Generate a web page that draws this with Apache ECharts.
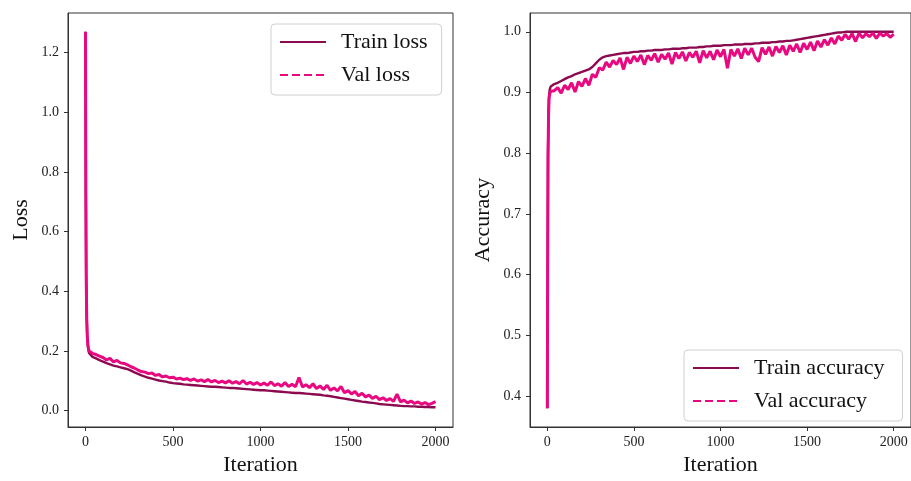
<!DOCTYPE html>
<html>
<head>
<meta charset="utf-8">
<script src="https://cdn.jsdelivr.net/npm/echarts@6/dist/echarts.min.js"></script>
<style>
  html, body { margin: 0; padding: 0; background: #fff; }
  #main { width: 911px; height: 481px; }
</style>
</head>
<body>
<div id="main"></div>
<script>
// iterations (x values shared by all four curves)
var iterations = [0, 2, 4, 7, 10, 14, 20,
  40, 60, 80, 100, 120, 140, 160, 180, 200, 220, 240, 260, 280, 300,
  320, 340, 360, 380, 400, 420, 440, 460, 480, 500,
  520, 540, 560, 580, 600, 620, 640, 660, 680, 700,
  720, 740, 760, 780, 800, 820, 840, 860, 880, 900,
  920, 940, 960, 980, 1000, 1020, 1040, 1060, 1080, 1100,
  1120, 1140, 1160, 1180, 1200, 1220, 1240, 1260, 1280, 1300,
  1320, 1340, 1360, 1380, 1400, 1420, 1440, 1460, 1480, 1500,
  1520, 1540, 1560, 1580, 1600, 1620, 1640, 1660, 1680, 1700,
  1720, 1740, 1760, 1780, 1800, 1820, 1840, 1860, 1880, 1900,
  1920, 1940, 1960, 1980, 2000];

var trainLoss = [1.27, 0.72, 0.45, 0.31, 0.25, 0.212, 0.193,
  0.180, 0.175, 0.169, 0.164, 0.159, 0.155, 0.151, 0.148, 0.145, 0.142, 0.139, 0.134, 0.128, 0.123,
  0.118, 0.114, 0.110, 0.107, 0.104, 0.101, 0.099, 0.097, 0.094, 0.092,
  0.091, 0.090, 0.088, 0.087, 0.086, 0.085, 0.084, 0.083, 0.082, 0.081,
  0.080, 0.080, 0.079, 0.078, 0.077, 0.076, 0.076, 0.075, 0.074, 0.073,
  0.072, 0.071, 0.070, 0.069, 0.068, 0.068, 0.067, 0.066, 0.065, 0.064,
  0.063, 0.062, 0.061, 0.060, 0.059, 0.059, 0.058, 0.057, 0.056, 0.055,
  0.054, 0.053, 0.051, 0.050, 0.048, 0.046, 0.044, 0.042, 0.040, 0.038,
  0.036, 0.034, 0.032, 0.030, 0.029, 0.027, 0.026, 0.024, 0.022, 0.021,
  0.020, 0.019, 0.018, 0.017, 0.016, 0.015, 0.015, 0.014, 0.014, 0.013,
  0.013, 0.012, 0.012, 0.011, 0.011];

var valLoss = [1.27, 0.72, 0.45, 0.31, 0.25, 0.22, 0.20,
  0.192, 0.188, 0.183, 0.178, 0.170, 0.175, 0.163, 0.168, 0.160, 0.158, 0.153, 0.147, 0.142, 0.136,
  0.131, 0.129, 0.124, 0.126, 0.118, 0.121, 0.113, 0.116, 0.110, 0.112,
  0.106, 0.109, 0.104, 0.107, 0.101, 0.106, 0.099, 0.103, 0.097, 0.104,
  0.096, 0.101, 0.094, 0.099, 0.093, 0.100, 0.092, 0.097, 0.090, 0.101,
  0.089, 0.095, 0.088, 0.094, 0.086, 0.092, 0.085, 0.096, 0.084, 0.090,
  0.082, 0.094, 0.081, 0.088, 0.080, 0.111, 0.079, 0.087, 0.077, 0.090,
  0.074, 0.083, 0.071, 0.085, 0.068, 0.076, 0.066, 0.081, 0.060, 0.067,
  0.056, 0.064, 0.050, 0.058, 0.046, 0.052, 0.041, 0.048, 0.037, 0.043,
  0.034, 0.040, 0.031, 0.055, 0.029, 0.035, 0.026, 0.032, 0.024, 0.029,
  0.022, 0.027, 0.020, 0.024, 0.030];

var trainAcc = [0.38, 0.62, 0.80, 0.87, 0.895, 0.905, 0.910,
  0.914, 0.916, 0.919, 0.922, 0.925, 0.927, 0.930, 0.932, 0.934, 0.936, 0.938, 0.942, 0.948, 0.954,
  0.958, 0.960, 0.961, 0.962, 0.963, 0.964, 0.965, 0.965, 0.966, 0.967,
  0.967, 0.968, 0.968, 0.969, 0.969, 0.970, 0.970, 0.970, 0.971, 0.971,
  0.972, 0.972, 0.972, 0.973, 0.973, 0.974, 0.974, 0.974, 0.975, 0.975,
  0.976, 0.976, 0.977, 0.977, 0.977, 0.978, 0.978, 0.978, 0.979, 0.979,
  0.979, 0.980, 0.980, 0.980, 0.981, 0.981, 0.982, 0.982, 0.982, 0.983,
  0.983, 0.984, 0.984, 0.985, 0.985, 0.986, 0.987, 0.988, 0.989, 0.990,
  0.991, 0.992, 0.993, 0.994, 0.995, 0.996, 0.997, 0.998, 0.999, 0.999,
  1.000, 1.000, 1.000, 1.000, 1.000, 1.000, 1.000, 1.000, 1.000, 1.000,
  1.000, 1.000, 1.000, 1.000, 1.000];

var valAcc = [0.38, 0.60, 0.79, 0.86, 0.89, 0.898, 0.902,
  0.903, 0.908, 0.899, 0.912, 0.905, 0.916, 0.901, 0.918, 0.910, 0.923, 0.912, 0.930, 0.925, 0.941,
  0.937, 0.950, 0.942, 0.953, 0.946, 0.957, 0.938, 0.958, 0.948, 0.960,
  0.951, 0.962, 0.946, 0.961, 0.953, 0.964, 0.950, 0.963, 0.955, 0.965,
  0.947, 0.966, 0.956, 0.967, 0.952, 0.966, 0.958, 0.968, 0.949, 0.969,
  0.957, 0.968, 0.954, 0.970, 0.959, 0.971, 0.940, 0.971, 0.960, 0.972,
  0.956, 0.973, 0.962, 0.973, 0.958, 0.951, 0.974, 0.963, 0.975, 0.960,
  0.976, 0.966, 0.977, 0.962, 0.978, 0.968, 0.980, 0.966, 0.981, 0.971,
  0.983, 0.969, 0.985, 0.975, 0.987, 0.978, 0.990, 0.980, 0.993, 0.986,
  0.996, 0.988, 0.997, 0.984, 0.998, 0.990, 0.997, 0.992, 0.998, 0.989,
  0.998, 0.993, 0.997, 0.991, 0.996];

var xTicks = [0, 500, 1000, 1500, 2000];
var lossTicks = [0, 0.2, 0.4, 0.6, 0.8, 1.0, 1.2];
var accTicks = [0.4, 0.5, 0.6, 0.7, 0.8, 0.9, 1.0];

var TRAIN_COLOR = '#8c0b50';
var VAL_COLOR = '#e8087f';
var FONT = '"Liberation Serif", "DejaVu Serif", serif';

function pairs(ys) {
    return iterations.map(function (x, i) { return [x, ys[i]]; });
}

function xAxisFor(idx) {
    return {
        type: 'value',
        gridIndex: idx,
        min: -100,
        max: 2100,
        name: 'Iteration',
        nameLocation: 'middle',
        nameGap: 27,
        nameTextStyle: { fontFamily: FONT, fontSize: 22, color: '#111' },
        axisLine: { show: true, onZero: false, lineStyle: { color: '#333', width: 1 } },
        axisTick: { show: true, length: 4, customValues: xTicks, lineStyle: { color: '#333' } },
        axisLabel: {
            customValues: xTicks, margin: 8, fontFamily: FONT, fontSize: 14, color: '#222',
            formatter: function (v) { return String(v); }
        },
        splitLine: { show: false }
    };
}

function yAxisFor(idx, name, lo, hi, ticks, gap) {
    return {
        type: 'value',
        gridIndex: idx,
        min: lo,
        max: hi,
        name: name,
        nameLocation: 'middle',
        nameGap: gap,
        nameTextStyle: { fontFamily: FONT, fontSize: 22, color: '#111' },
        axisLine: { show: true, onZero: false, lineStyle: { color: '#333', width: 1 } },
        axisTick: { show: true, length: 4, customValues: ticks, lineStyle: { color: '#333' } },
        axisLabel: {
            customValues: ticks, margin: 9, fontFamily: FONT, fontSize: 14, color: '#222',
            formatter: function (v) { return v.toFixed(1); }
        },
        splitLine: { show: false }
    };
}

// legend keys: plain line samples, the marker is hidden
function legendFor(left, top, names, rightPad) {
    return {
        orient: 'vertical',
        left: left,
        top: top,
        data: [
            { name: names[0], itemStyle: { opacity: 0 }, lineStyle: { color: TRAIN_COLOR, width: 2, type: 'solid' } },
            { name: names[1], itemStyle: { opacity: 0 }, lineStyle: { color: VAL_COLOR, width: 2, type: [8, 4] } }
        ],
        itemWidth: 46,
        itemHeight: 14,
        itemGap: 7,
        padding: [5, rightPad, 7, 8],
        borderColor: '#d0d0d0',
        borderWidth: 1,
        borderRadius: 4,
        backgroundColor: 'rgba(255,255,255,0.8)',
        textStyle: { fontFamily: FONT, fontSize: 22, color: '#111', padding: [0, 0, 0, 10], lineHeight: 26 }
    };
}

var myChart = echarts.init(document.getElementById('main'));

var option = {
    animation: false,
    backgroundColor: '#fff',
    grid: [
        { left: 68, top: 13, width: 385, height: 420, show: true, borderColor: '#333', borderWidth: 1, backgroundColor: 'transparent' },
        { left: 530, top: 13, width: 384, height: 420, show: true, borderColor: '#333', borderWidth: 1, backgroundColor: 'transparent' }
    ],
    legend: [
        legendFor(271, 24, ['Train loss', 'Val loss'], 14),
        legendFor(684, 350, ['Train accuracy', 'Val accuracy'], 18)
    ],
    xAxis: [xAxisFor(0), xAxisFor(1)],
    yAxis: [
        yAxisFor(0, 'Loss', -0.055, 1.333, lossTicks, 36),
        yAxisFor(1, 'Accuracy', 0.349, 1.031, accTicks, 36)
    ],
    series: [
        {
            name: 'Train loss', type: 'line', xAxisIndex: 0, yAxisIndex: 0,
            symbol: 'none', lineStyle: { color: TRAIN_COLOR, width: 2.4 },
            itemStyle: { color: TRAIN_COLOR }, data: pairs(trainLoss)
        },
        {
            name: 'Val loss', type: 'line', xAxisIndex: 0, yAxisIndex: 0,
            symbol: 'none', lineStyle: { color: VAL_COLOR, width: 3 },
            itemStyle: { color: VAL_COLOR }, data: pairs(valLoss)
        },
        {
            name: 'Train accuracy', type: 'line', xAxisIndex: 1, yAxisIndex: 1,
            symbol: 'none', lineStyle: { color: TRAIN_COLOR, width: 2.4 },
            itemStyle: { color: TRAIN_COLOR }, data: pairs(trainAcc)
        },
        {
            name: 'Val accuracy', type: 'line', xAxisIndex: 1, yAxisIndex: 1,
            symbol: 'none', lineStyle: { color: VAL_COLOR, width: 3 },
            itemStyle: { color: VAL_COLOR }, data: pairs(valAcc)
        }
    ]
};

myChart.setOption(option);
</script>
</body>
</html>
